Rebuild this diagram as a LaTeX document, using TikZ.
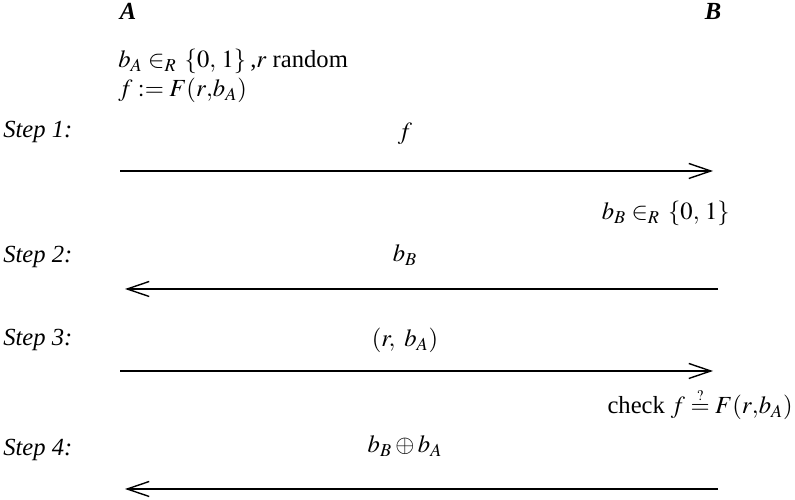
\documentclass[tikz,border=0pt]{standalone}
\usepackage{mathptmx}
\usepackage{fontspec}
\setmainfont{Liberation Serif}
\usetikzlibrary{arrows.meta}

\begin{document}
\begin{tikzpicture}[
  party/.style={font=\fontsize{14}{17}\selectfont\bfseries\itshape, anchor=base, inner sep=0pt},
  steplabel/.style={font=\fontsize{14}{17}\selectfont\itshape, anchor=base west, inner sep=0pt},
  txt/.style={font=\fontsize{14}{17}\selectfont, inner sep=0pt},
  msg/.style={line width=0.9pt, -{Straight Barb[length=4.4mm,width=3mm,line width=0.8pt].}}
]
\useasboundingbox (0,0) rectangle (15.9,10);

% parties
\node[party] (A) at (2.56,9.6)  {A};
\node[party] (B) at (14.26,9.6) {B};

% A prepares the commitment
\node[txt, anchor=base west] (pick) at (2.36,8.64) {$b_A \in_R\, \{0,\,1\}$\,,$r$ random};
\node[txt, anchor=base west] (comm) at (2.36,8.06) {$f := F(r{,}b_A)$};

% step labels
\node[steplabel] (s1) at (0.06,7.24) {Step 1:};
\node[steplabel] (s2) at (0.06,4.74) {Step 2:};
\node[steplabel] (s3) at (0.06,3.08) {Step 3:};
\node[steplabel] (s4) at (0.06,0.88) {Step 4:};

% message labels
\node[txt, anchor=base] (m1) at (8.1,7.2)  {$f$};
\node[txt, anchor=base] (m2) at (8.1,4.76) {$b_B$};
\node[txt, anchor=base] (m3) at (8.1,3.06) {$(r,\ b_A)$};
\node[txt, anchor=base] (m4) at (8.1,0.94) {$b_B \oplus b_A$};

% B's side
\node[txt, anchor=base east] (guess) at (14.6,5.6)  {$b_B \in_R\, \{0,\,1\}$};
\node[txt, anchor=base east] (check) at (15.86,1.72)
  {check $f \mathrel{\stackrel{\scriptscriptstyle ?}{=}} F(r{,}b_A)$};

% ends of the messages
\coordinate (a1) at (2.4,6.58);  \coordinate (b1) at (14.26,6.58);
\coordinate (a2) at (2.5,4.22);  \coordinate (b2) at (14.36,4.22);
\coordinate (a3) at (2.4,2.58);  \coordinate (b3) at (14.26,2.58);
\coordinate (a4) at (2.5,0.22);  \coordinate (b4) at (14.36,0.22);

\draw[msg] (a1) -- (b1);
\draw[msg] (b2) -- (a2);
\draw[msg] (a3) -- (b3);
\draw[msg] (b4) -- (a4);
\end{tikzpicture}
\end{document}
